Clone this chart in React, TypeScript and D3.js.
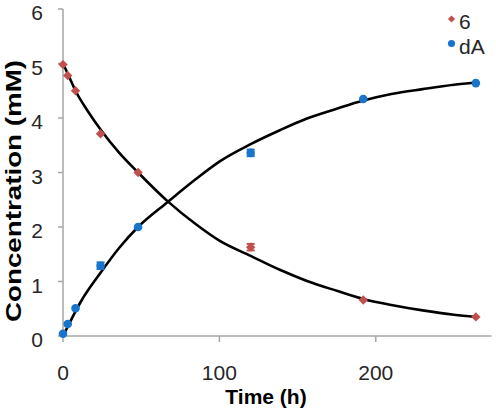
import React from "react";
import * as d3 from "d3";

// Measured data
const timeH = [0, 3, 8, 24, 48, 120, 192, 264];
const conc6 = [4.98, 4.78, 4.5, 3.71, 3.0, 1.63, 0.66, 0.35];
const concDA = [0.04, 0.22, 0.51, 1.29, 2.0, 3.36, 4.35, 4.64];
const err6 = [0, 0, 0, 0, 0, 0.06, 0, 0];
const errDA = [0, 0, 0, 0.06, 0, 0.06, 0, 0];

// Fitted curves
const fitTime6 = [0, 4, 8, 16, 24, 36, 48, 67, 85, 100, 120, 139, 156, 175, 192, 210, 230, 250, 264];
const fitVal6 = [5.0, 4.75, 4.5, 4.12, 3.79, 3.36, 3.0, 2.47, 2.05, 1.75, 1.47, 1.21, 1.01, 0.83, 0.68, 0.57, 0.47, 0.39, 0.35];
const fitTimeDA = [0, 3, 8, 11, 24, 36, 48, 67, 85, 100, 120, 139, 156, 175, 192, 210, 230, 250, 264];
const fitValDA = [0, 0.17, 0.45, 0.61, 1.16, 1.62, 2.0, 2.46, 2.88, 3.2, 3.52, 3.78, 3.99, 4.17, 4.32, 4.44, 4.53, 4.61, 4.65];

const xTicks = [0, 100, 200];
const yTicks = [0, 1, 2, 3, 4, 5, 6];
const seriesNames = ["6", "dA"];

const RED = "#C0504D";
const BLUE = "#1874CD";
const AXIS = "#A6A6A6";
const TEXT = "#262626";
const FONT = "'Liberation Sans', Arial, sans-serif";

export default function App() {
  const x = d3.scaleLinear().domain([0, 274]).range([63, 491.5]);
  const y = d3.scaleLinear().domain([0, 6]).range([336, 9]);

  const line = d3
    .line<[number, number]>()
    .x((d) => x(d[0]))
    .y((d) => y(d[1]))
    .curve(d3.curveMonotoneX);

  const fit6 = fitTime6.map((t, i) => [t, fitVal6[i]] as [number, number]);
  const fitDA = fitTimeDA.map((t, i) => [t, fitValDA[i]] as [number, number]);

  const diamond = d3.symbol().type(d3.symbolSquare).size(44)() as string;
  const diamondLegend = d3.symbol().type(d3.symbolSquare).size(26)() as string;

  const errBar = (t: number, v: number, e: number, color: string, key: string) => {
    if (!e) return null;
    const cx = x(t);
    const y1 = y(v + e);
    const y2 = y(v - e);
    return (
      <g key={key} stroke={color} strokeWidth={2}>
        <line x1={cx} x2={cx} y1={y1} y2={y2} />
        <line x1={cx - 4} x2={cx + 4} y1={y1} y2={y1} />
        <line x1={cx - 4} x2={cx + 4} y1={y2} y2={y2} />
      </g>
    );
  };

  return (
    <svg
      width={496}
      height={411}
      style={{ position: "absolute", left: 0, top: 0, background: "#fff" }}
      fontFamily={FONT}
    >
      <rect x={0} y={0} width={496} height={411} fill="#fff" />
      {/* axes */}
      <line x1={x(0)} x2={x(0)} y1={y(6)} y2={y(0)} stroke={AXIS} strokeWidth={1.5} />
      <line x1={x(0)} x2={x(274)} y1={y(0)} y2={y(0)} stroke={AXIS} strokeWidth={1.5} />
      {yTicks.map((v) => (
        <g key={"y" + v}>
          <line x1={x(0) - 5} x2={x(0)} y1={y(v)} y2={y(v)} stroke={AXIS} strokeWidth={1.5} />
          <text x={43} y={y(v) + 11} textAnchor="end" fontSize={21} fill={TEXT}>
            {v}
          </text>
        </g>
      ))}
      {xTicks.map((v) => (
        <g key={"x" + v}>
          <line x1={x(v)} x2={x(v)} y1={y(0)} y2={y(0) + 6} stroke={AXIS} strokeWidth={1.5} />
          <text x={x(v)} y={380} textAnchor="middle" fontSize={21} fill={TEXT}>
            {v}
          </text>
        </g>
      ))}
      {/* axis titles */}
      <text x={266} y={404} textAnchor="middle" fontSize={21} fontWeight="bold" fill="#000">
        Time (h)
      </text>
      <text
        transform="translate(21,191) rotate(-90)"
        textAnchor="middle"
        fontSize={22}
        fontWeight="bold"
        fill="#000"
        textLength={262}
        lengthAdjust="spacingAndGlyphs"
      >
        Concentration (mM)
      </text>

      {/* fitted curves */}
      <path d={line(fit6) as string} fill="none" stroke="#000" strokeWidth={2.6} />
      <path d={line(fitDA) as string} fill="none" stroke="#000" strokeWidth={2.6} />

      {/* error bars */}
      {timeH.map((t, i) => errBar(t, conc6[i], err6[i], RED, "e6" + i))}
      {timeH.map((t, i) => errBar(t, concDA[i], errDA[i], BLUE, "ed" + i))}

      {/* markers */}
      {timeH.map((t, i) => (
        <path
          key={"m6" + i}
          d={diamond}
          transform={`translate(${x(t)},${y(conc6[i])}) rotate(45)`}
          fill={RED}
        />
      ))}
      {timeH.map((t, i) => (
        <circle key={"md" + i} cx={x(t)} cy={y(concDA[i])} r={4.3} fill={BLUE} />
      ))}

      {/* legend */}
      <path d={diamondLegend} transform="translate(451.5,19) rotate(45)" fill={RED} />
      <text x={459} y={28.5} fontSize={21} fill={TEXT}>
        {seriesNames[0]}
      </text>
      <circle cx={451.5} cy={43.5} r={3.6} fill={BLUE} />
      <text x={459} y={54} fontSize={21} fill={TEXT}>
        {seriesNames[1]}
      </text>
    </svg>
  );
}
